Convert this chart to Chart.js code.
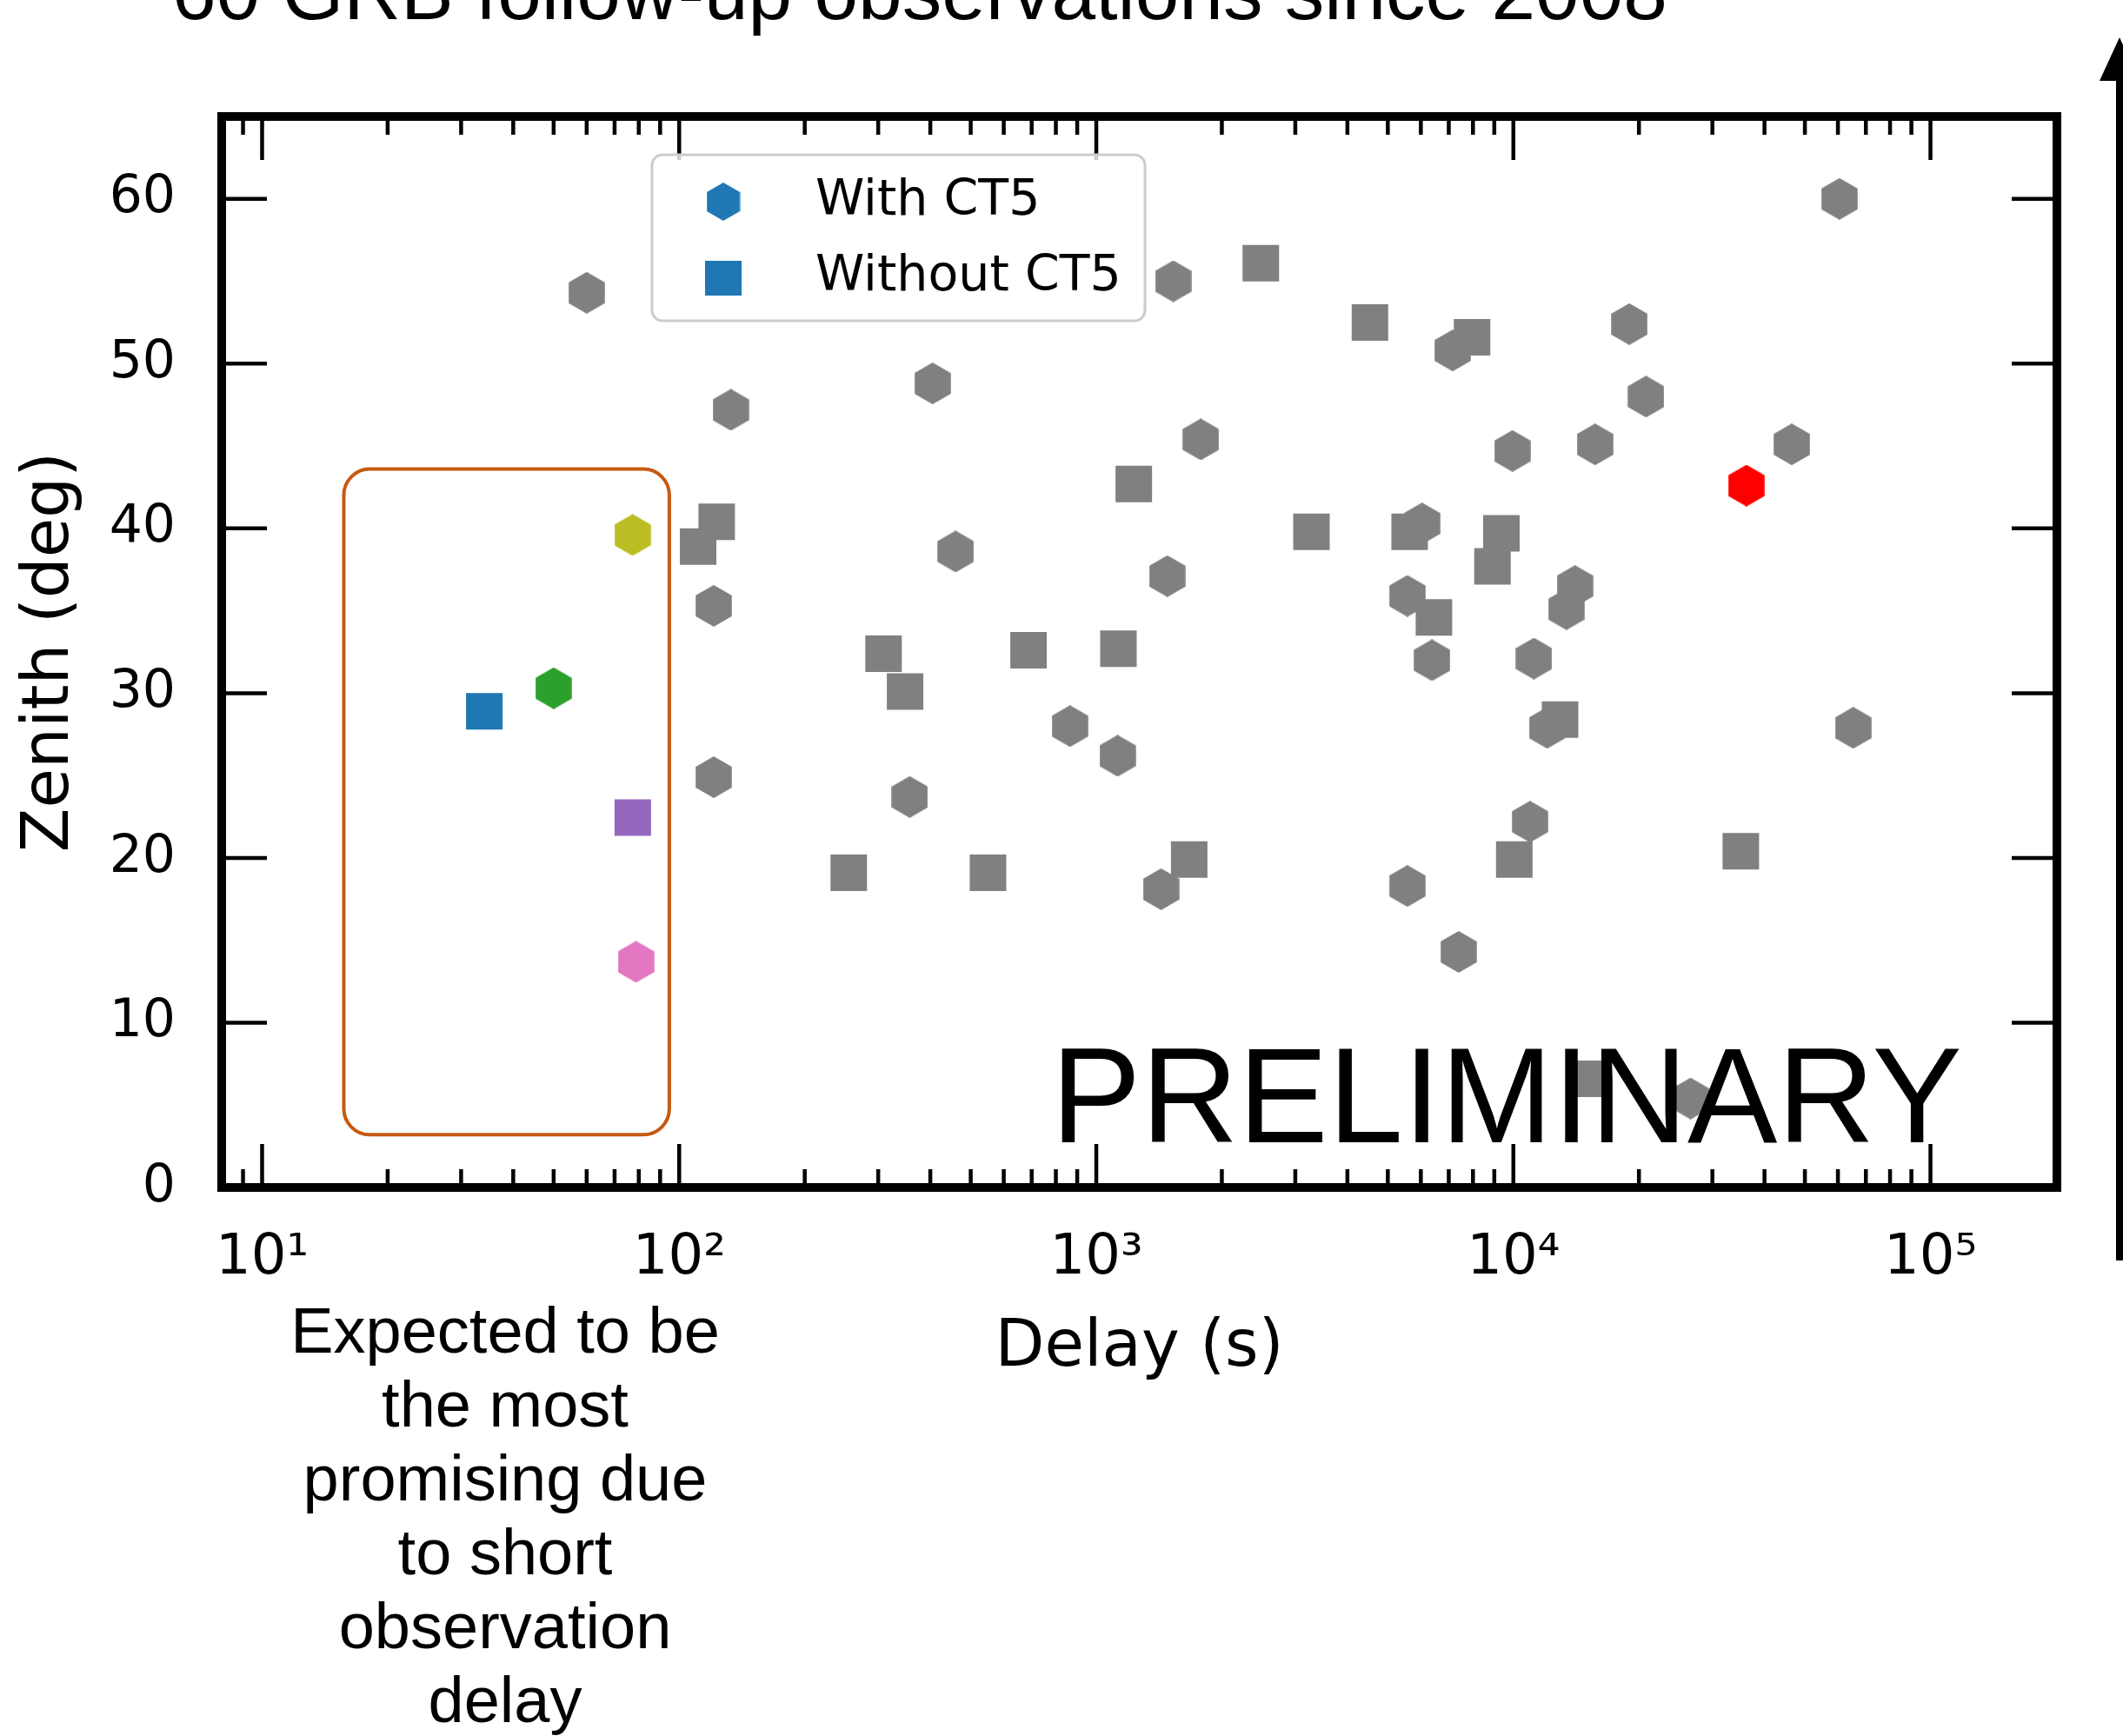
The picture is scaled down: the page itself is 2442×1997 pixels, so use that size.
<!DOCTYPE html>
<html>
<head>
<meta charset="utf-8">
<script src="https://cdn.jsdelivr.net/npm/chart.js@4.4.1/dist/chart.umd.min.js"></script>
<style>
  html, body { margin: 0; padding: 0; background: #fff; }
</style>
</head>
<body>
<canvas id="grb" width="2442" height="1997"></canvas>
<script>
// GRB follow-up observations: delay after alert vs zenith angle

// gray hexagons = observed with CT5
const withCT5Delay  = [60, 133, 121, 121, 1530, 405, 1780, 460, 1480, 5570, 6040, 6380, 865, 1125, 357, 1430,
                       5570, 7390, 60500, 7150, 18960, 20800, 9950, 15700, 46500, 14050, 13400, 11200, 12050, 65300, 10960, 26600];
const withCT5Zenith = [54.3, 47.2, 35.3, 24.9, 55.0, 48.8, 45.4, 38.6, 37.1, 35.9, 40.3, 32.0, 28.0, 26.2, 23.7, 18.1,
                       18.3, 14.3, 60.0, 50.8, 52.4, 48.0, 44.7, 45.1, 45.1, 36.5, 35.1, 32.1, 27.9, 27.9, 22.2, 5.4];

// gray squares = observed without CT5
const withoutCT5Delay  = [123, 111, 2480, 4530, 1230, 3280, 5640, 6450, 309, 348, 688, 1130, 255, 550, 1670,
                          7960, 9360, 8910, 12940, 10050, 35100, 15200];
const withoutCT5Zenith = [40.4, 38.9, 56.1, 52.5, 42.7, 39.8, 39.8, 34.6, 32.4, 30.1, 32.6, 32.7, 19.1, 19.1, 19.9,
                          51.6, 39.7, 37.7, 28.4, 19.9, 20.4, 6.6];

// short-delay GRBs (coloured)
const promptHexDelay  = [50.0, 77.3, 78.8];
const promptHexZenith = [30.3, 39.6, 13.7];
const promptSquareDelay  = [34.1, 77.4];
const promptSquareZenith = [28.9, 22.45];

// highlighted GRB
const redDelay  = [36200];
const redZenith = [42.6];

const xMajorTicks = [10, 100, 1000, 10000, 100000];
const xTickLabels = ['10¹', '10²', '10³', '10⁴', '10⁵'];
const yTickValues = [0, 10, 20, 30, 40, 50, 60];

const legendLabels = ['With CT5', 'Without CT5'];
const noteLines = ['Expected to be', 'the most', 'promising due', 'to short', 'observation', 'delay'];
const titleText = '60 GRB follow-up observations since 2008';

// region of the rounded box (data units)
const boxDelay  = [15.7, 94.7];
const boxZenith = [3.2, 43.6];

// ---- styles
const GRAY = '#808080';
const promptHexColors = ['#2ca02c', '#bcbd22', '#e377c2'];
const promptSquareColors = ['#1f77b4', '#9467bd'];
const HEX_R = 24;
const SQ_R = 29.7;

function hexImage(color, r) {
  const w = Math.ceil(Math.sqrt(3) * r), h = 2 * r;
  const c = document.createElement('canvas');
  c.width = w; c.height = h;
  const g = c.getContext('2d');
  g.fillStyle = color;
  g.beginPath();
  for (let i = 0; i < 6; i++) {
    const a = Math.PI / 2 + i * Math.PI / 3;
    const px = w / 2 + r * Math.cos(a), py = h / 2 - r * Math.sin(a);
    if (i === 0) g.moveTo(px, py); else g.lineTo(px, py);
  }
  g.closePath();
  g.fill();
  return c;
}

function pts(xs, ys) {
  return xs.map((x, i) => ({x: x, y: ys[i]}));
}

// all 1..9 x 10^n tick positions inside the axis range
function xTickValues(min, max) {
  const out = [];
  for (let e = 0; e <= 5; e++) {
    for (let m = 1; m <= 9; m++) {
      const v = m * Math.pow(10, e);
      if (v > min && v < max) out.push(v);
    }
  }
  return out;
}

function roundRect(ctx, x, y, w, h, r) {
  ctx.beginPath();
  ctx.moveTo(x + r, y);
  ctx.lineTo(x + w - r, y);
  ctx.arcTo(x + w, y, x + w, y + r, r);
  ctx.lineTo(x + w, y + h - r);
  ctx.arcTo(x + w, y + h, x + w - r, y + h, r);
  ctx.lineTo(x + r, y + h);
  ctx.arcTo(x, y + h, x, y + h - r, r);
  ctx.lineTo(x, y + r);
  ctx.arcTo(x, y, x + r, y, r);
  ctx.closePath();
}

const decor = {
  id: 'decor',
  afterDraw(chart) {
    const ctx = chart.ctx;
    const a = chart.chartArea;
    const xs = chart.scales.x, ys = chart.scales.y;
    ctx.save();

    // inward ticks
    ctx.strokeStyle = '#000';
    ctx.lineWidth = 4.5;
    ctx.beginPath();
    xs.ticks.forEach(t => {
      const px = xs.getPixelForValue(t.value);
      const len = xMajorTicks.indexOf(t.value) >= 0 ? 50 : 21;
      ctx.moveTo(px, a.bottom); ctx.lineTo(px, a.bottom - len);
      ctx.moveTo(px, a.top); ctx.lineTo(px, a.top + len);
    });
    ys.ticks.forEach(t => {
      const py = ys.getPixelForValue(t.value);
      if (t.value <= 0) return;
      ctx.moveTo(a.left, py); ctx.lineTo(a.left + 52, py);
      ctx.moveTo(a.right, py); ctx.lineTo(a.right - 52, py);
    });
    ctx.stroke();

    // frame
    ctx.lineWidth = 10;
    ctx.lineJoin = 'miter';
    ctx.strokeRect(a.left, a.top, a.right - a.left, a.bottom - a.top);

    // rounded box around the short-delay GRBs
    const bx0 = xs.getPixelForValue(boxDelay[0]), bx1 = xs.getPixelForValue(boxDelay[1]);
    const by0 = ys.getPixelForValue(boxZenith[1]), by1 = ys.getPixelForValue(boxZenith[0]);
    ctx.strokeStyle = '#c55a11';
    ctx.lineWidth = 4;
    roundRect(ctx, bx0, by0, bx1 - bx0, by1 - by0, 30);
    ctx.stroke();

    // legend
    roundRect(ctx, 750, 178, 567, 191, 12);
    ctx.fillStyle = 'rgba(255,255,255,0.8)';
    ctx.fill();
    ctx.strokeStyle = '#cccccc';
    ctx.lineWidth = 3;
    ctx.stroke();
    const lhex = hexImage('#1f77b4', 22);
    ctx.drawImage(lhex, 832 - lhex.width / 2, 232 - lhex.height / 2);
    ctx.fillStyle = '#1f77b4';
    ctx.fillRect(832 - 21, 320 - 20, 42, 40);
    ctx.fillStyle = '#000';
    ctx.font = '57px "DejaVu Sans"';
    ctx.textAlign = 'left';
    ctx.textBaseline = 'alphabetic';
    ctx.fillText(legendLabels[0], 938, 247);
    ctx.fillText(legendLabels[1], 938, 334);

    // watermark
    ctx.font = '155px "Liberation Sans", Arial, sans-serif';
    ctx.fillText('PRELIMINARY', 1209, 1314);

    // note under the axis
    ctx.font = '74px "Liberation Sans", Arial, sans-serif';
    ctx.textAlign = 'center';
    noteLines.forEach((line, i) => ctx.fillText(line, 581, 1556 + i * 85));

    // slide title, cut at the top
    ctx.textAlign = 'left';
    ctx.font = '91px "Liberation Sans", Arial, sans-serif';
    ctx.fillText(titleText, 198, 22);

    // arrow at the right edge
    ctx.strokeStyle = '#000';
    ctx.lineWidth = 8;
    ctx.beginPath();
    ctx.moveTo(2438, 1450); ctx.lineTo(2438, 88);
    ctx.stroke();
    ctx.beginPath();
    ctx.moveTo(2438, 43); ctx.lineTo(2415, 93); ctx.lineTo(2461, 93);
    ctx.closePath();
    ctx.fill();

    ctx.restore();
  }
};

const yTickFont = {family: 'DejaVu Sans', size: 60};
const xTickFont = {family: 'DejaVu Sans', size: 64};
const titleFont = {family: 'DejaVu Sans', size: 74};

new Chart(document.getElementById('grb'), {
  type: 'scatter',
  data: {
    datasets: [
      {label: 'red', data: pts(redDelay, redZenith), pointStyle: hexImage('#ff0000', HEX_R), pointRadius: HEX_R},
      {label: 'prompt hex', data: pts(promptHexDelay, promptHexZenith),
       pointStyle: promptHexColors.map(c => hexImage(c, HEX_R)), pointRadius: HEX_R},
      {label: 'prompt square', data: pts(promptSquareDelay, promptSquareZenith), pointStyle: 'rect',
       pointRadius: SQ_R, pointBackgroundColor: promptSquareColors, pointBorderWidth: 0},
      {label: legendLabels[1], data: pts(withoutCT5Delay, withoutCT5Zenith), pointStyle: 'rect',
       pointRadius: SQ_R, pointBackgroundColor: GRAY, pointBorderWidth: 0},
      {label: legendLabels[0], data: pts(withCT5Delay, withCT5Zenith), pointStyle: hexImage(GRAY, HEX_R), pointRadius: HEX_R}
    ]
  },
  options: {
    responsive: false,
    animation: false,
    devicePixelRatio: 1,
    events: [],
    layout: {padding: {top: 134, right: 76, bottom: 0, left: 0}},
    plugins: {legend: {display: false}, tooltip: {enabled: false}},
    scales: {
      x: {
        type: 'logarithmic',
        min: 8,
        max: 201000,
        afterBuildTicks: s => { s.ticks = xTickValues(8, 201000).map(v => ({value: v})); },
        afterFit: s => { s.height = 631; },
        grid: {display: false, drawTicks: false},
        border: {display: false},
        ticks: {
          autoSkip: false, maxRotation: 0, minRotation: 0, padding: 44, color: '#000', font: xTickFont,
          callback: v => { const i = xMajorTicks.indexOf(v); return i >= 0 ? xTickLabels[i] : ''; }
        },
        title: {display: true, text: 'Delay (s)', color: '#000', font: titleFont, padding: {top: 0, bottom: 401}}
      },
      y: {
        type: 'linear',
        min: 0,
        max: 65,
        afterBuildTicks: s => { s.ticks = yTickValues.map(v => ({value: v})); },
        afterFit: s => { s.width = 255; },
        grid: {display: false, drawTicks: false},
        border: {display: false},
        ticks: {padding: 53, color: '#000', font: yTickFont},
        title: {display: true, text: 'Zenith (deg)', color: '#000', font: titleFont, padding: {top: 14, bottom: 0}}
      }
    }
  },
  plugins: [decor]
});
</script>
</body>
</html>
